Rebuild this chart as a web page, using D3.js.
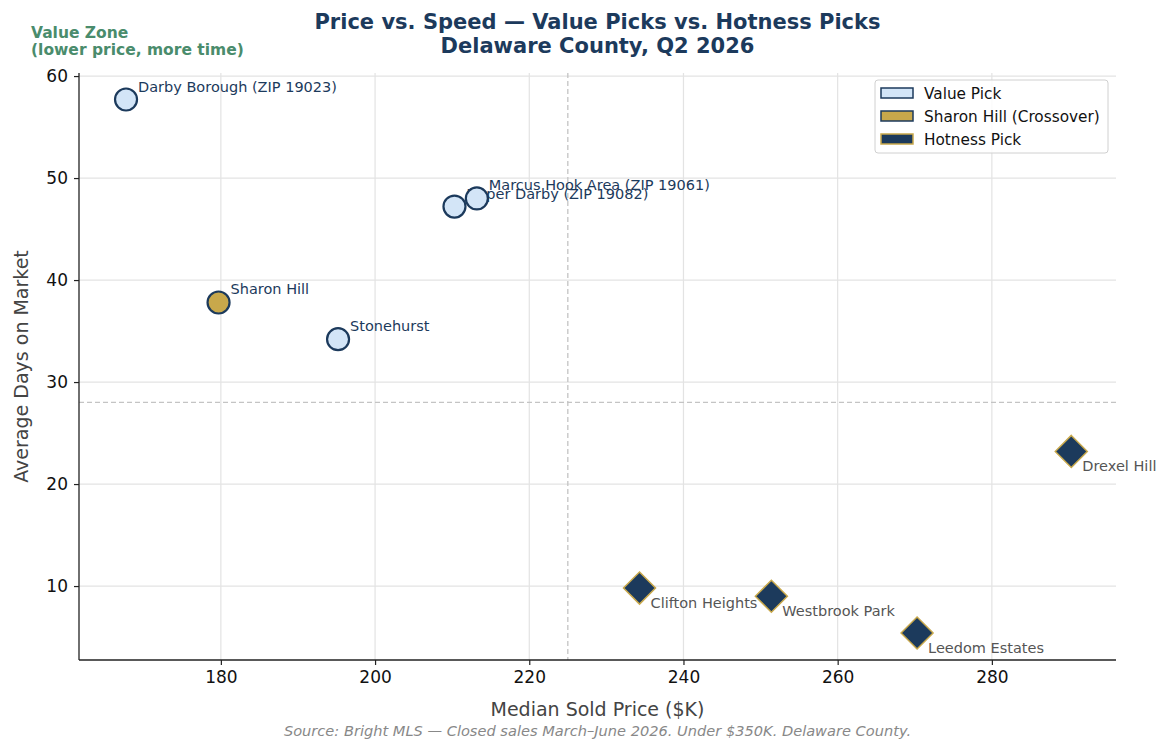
<!DOCTYPE html>
<html>
<head>
<meta charset="utf-8">
<script src="https://cdn.jsdelivr.net/npm/d3@7"></script>
<style>
  body { margin: 0; background: #fff; }
  svg { font-family: "DejaVu Sans", sans-serif; }
</style>
</head>
<body>
<div id="chart"></div>
<script>
// data
var names = ["Darby Borough (ZIP 19023)", "Upper Darby (ZIP 19082)", "Marcus Hook Area (ZIP 19061)",
             "Sharon Hill", "Stonehurst", "Clifton Heights", "Westbrook Park", "Leedom Estates", "Drexel Hill"];
var prices = [167.7, 210.3, 213.2, 179.7, 195.2, 234.3, 251.4, 270.3, 290.3];
var days = [57.7, 47.2, 48.0, 37.8, 34.2, 9.8, 9.0, 5.4, 23.2];
var groups = ["value", "value", "value", "cross", "value", "hot", "hot", "hot", "hot"];
var xTicks = [180, 200, 220, 240, 260, 280];
var yTicks = [10, 20, 30, 40, 50, 60];
var priceCut = 225, daysCut = 28;
var legendLabels = ["Value Pick", "Sharon Hill (Crossover)", "Hotness Pick"];

var navy = "#1c3a5c", gold = "#c8a84b", light = "#d3e5f7";

var W = 1170, H = 753;
var margin = {top: 73, right: 54, bottom: 93, left: 79},
    width = W - margin.left - margin.right,
    height = H - margin.top - margin.bottom;

var svg = d3.select("#chart").append("svg")
  .attr("width", W).attr("height", H);

var g = svg.append("g")
  .attr("transform", "translate(" + margin.left + "," + margin.top + ")");

var x = d3.scaleLinear().domain([161.6, 296.1]).range([0, width]);
var y = d3.scaleLinear().domain([2.75, 60.3]).range([height, 0]);

// grid
g.selectAll(".gx").data(xTicks).enter().append("line")
  .attr("x1", d => x(d)).attr("x2", d => x(d))
  .attr("y1", 0).attr("y2", height)
  .attr("stroke", "#e3e3e3").attr("stroke-width", 1.2);
g.selectAll(".gy").data(yTicks).enter().append("line")
  .attr("x1", 0).attr("x2", width)
  .attr("y1", d => y(d)).attr("y2", d => y(d))
  .attr("stroke", "#e3e3e3").attr("stroke-width", 1.2);

// reference lines
g.append("line")
  .attr("x1", x(priceCut)).attr("x2", x(priceCut))
  .attr("y1", 0).attr("y2", height)
  .attr("stroke", "#c4c4c4").attr("stroke-width", 1.3).attr("stroke-dasharray", "5,3");
g.append("line")
  .attr("x1", 0).attr("x2", width)
  .attr("y1", y(daysCut)).attr("y2", y(daysCut))
  .attr("stroke", "#c4c4c4").attr("stroke-width", 1.3).attr("stroke-dasharray", "5,3");

// axes
var xAxis = g.append("g")
  .attr("transform", "translate(0," + height + ")")
  .call(d3.axisBottom(x).tickValues(xTicks).tickSize(5).tickPadding(6));
var yAxis = g.append("g")
  .call(d3.axisLeft(y).tickValues(yTicks).tickSize(5).tickPadding(6));
[xAxis, yAxis].forEach(function(a) {
  a.select(".domain").attr("stroke", "#222").attr("stroke-width", 1.3)
    .attr("d", a === xAxis ? "M0,0H" + width : "M0,0V" + height);
  a.selectAll(".tick line").attr("stroke", "#222").attr("stroke-width", 1.2);
  a.selectAll("text").attr("font-size", 17).attr("fill", "#111")
    .attr("font-family", "DejaVu Sans, sans-serif");
});

// points
var pts = names.map(function(n, i) {
  return {name: n, price: prices[i], days: days[i], group: groups[i]};
});

var hot = pts.filter(d => d.group === "hot");
g.selectAll(".hot").data(hot).enter().append("path")
  .attr("d", "M0,-16L16,0L0,16L-16,0Z")
  .attr("transform", d => "translate(" + x(d.price) + "," + y(d.days) + ")")
  .attr("fill", navy).attr("stroke", gold).attr("stroke-width", 1.5);

var circ = pts.filter(d => d.group !== "hot");
// labels of the value picks sit under the circles (Upper Darby is hidden by Marcus Hook)
g.selectAll(".lab").data(pts).enter().append("text")
  .attr("x", d => x(d.price) + (d.group === "hot" ? 11 : 12))
  .attr("y", d => y(d.days) + (d.group === "hot" ? 20 : -8))
  .attr("font-size", 14.5)
  .attr("fill", d => d.group === "hot" ? "#555" : navy)
  .text(d => d.name);

g.selectAll(".circ").data(circ).enter().append("circle")
  .attr("cx", d => x(d.price)).attr("cy", d => y(d.days)).attr("r", 11)
  .attr("fill", d => d.group === "cross" ? gold : light)
  .attr("stroke", navy).attr("stroke-width", 2.2);

// axis titles
svg.append("text")
  .attr("x", margin.left + width / 2).attr("y", 716)
  .attr("text-anchor", "middle").attr("font-size", 19).attr("fill", "#444")
  .text("Median Sold Price ($K)");
svg.append("text")
  .attr("transform", "translate(28," + (margin.top + height / 2) + ") rotate(-90)")
  .attr("text-anchor", "middle").attr("font-size", 19).attr("fill", "#444")
  .text("Average Days on Market");

// title
var title = svg.append("text")
  .attr("x", margin.left + width / 2).attr("text-anchor", "middle")
  .attr("font-size", 21).attr("font-weight", "bold").attr("fill", navy);
title.append("tspan").attr("x", margin.left + width / 2).attr("y", 29)
  .text("Price vs. Speed \u2014 Value Picks vs. Hotness Picks");
title.append("tspan").attr("x", margin.left + width / 2).attr("y", 53)
  .text("Delaware County, Q2 2026");

// value zone note
var vz = svg.append("text").attr("font-size", 15.5).attr("font-weight", "bold").attr("fill", "#4a8c6c");
vz.append("tspan").attr("x", 31).attr("y", 38).text("Value Zone");
vz.append("tspan").attr("x", 31).attr("y", 55).text("(lower price, more time)");

// source
svg.append("text")
  .attr("x", margin.left + width / 2).attr("y", 736)
  .attr("text-anchor", "middle").attr("font-size", 14.6).attr("font-style", "italic")
  .attr("fill", "#888")
  .text("Source: Bright MLS \u2014 Closed sales March\u2013June 2026. Under $350K. Delaware County.");

// legend
var lg = svg.append("g").attr("transform", "translate(875,80)");
lg.append("rect").attr("width", 233).attr("height", 73).attr("rx", 3)
  .attr("fill", "#fff").attr("fill-opacity", 0.85).attr("stroke", "#d0d0d0");
var lfill = [light, gold, navy], lstroke = [navy, navy, gold];
legendLabels.forEach(function(t, i) {
  lg.append("rect").attr("x", 6).attr("y", 8 + i * 23).attr("width", 32).attr("height", 10)
    .attr("fill", lfill[i]).attr("stroke", lstroke[i]).attr("stroke-width", 1.5);
  lg.append("text").attr("x", 49).attr("y", 19 + i * 23).attr("font-size", 15.3).attr("fill", "#111")
    .text(t);
});
</script>
</body>
</html>
